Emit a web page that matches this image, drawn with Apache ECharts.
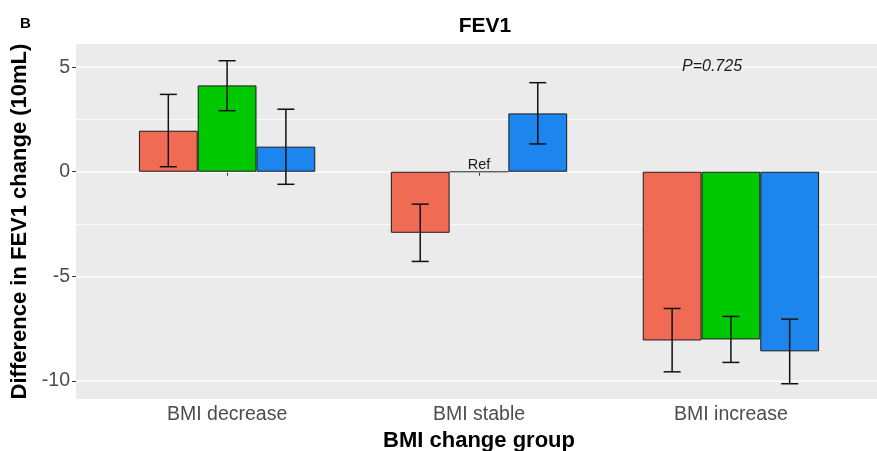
<!DOCTYPE html>
<html>
<head>
<meta charset="utf-8">
<script src="https://cdn.jsdelivr.net/npm/echarts@6/dist/echarts.min.js"></script>
<style>html,body{margin:0;padding:0;background:#fff}#c{width:877px;height:451px}</style>
</head>
<body>
<div id="c"></div>
<script>
// ---- data ----
const categories = ['BMI decrease', 'BMI stable', 'BMI increase'];
const seriesNames = ['Group 1', 'Group 2', 'Group 3'];
const values1 = [1.96, -2.92, -8.07];
const values2 = [4.13, 0, -8.02];
const values3 = [1.20, 2.79, -8.59];
const lower1 = [0.24, -4.29, -9.57];
const upper1 = [3.70, -1.55, -6.54];
const lower2 = [2.92, null, -9.12];
const upper2 = [5.31, null, -6.92];
const lower3 = [-0.60, 1.33, -10.14];
const upper3 = [2.99, 4.26, -7.05];
const yTicks = [-10, -5, 0, 5];
const yMinorGrid = [-2.5, 2.5];
const refLabel = 'Ref';
const pText = 'P=0.725';

const colors = ['#F06B53', '#00C800', '#1C86EE'];
const values = [values1, values2, values3];
const lowers = [lower1, lower2, lower3];
const uppers = [upper1, upper2, upper3];
const FONT = "'Liberation Sans', Arial, sans-serif";
const yMin = -10.87, yMax = 6.11;

const chart = echarts.init(document.getElementById('c'), null, {renderer: 'canvas'});

const barSeries = values.map((vals, k) => ({
  type: 'bar',
  name: seriesNames[k],
  xAxisIndex: 1, yAxisIndex: 1,
  barGap: '0%',
  barCategoryGap: '30%',
  z: 2,
  itemStyle: {color: colors[k], borderColor: '#1a1a1a', borderWidth: 1},
  data: vals.map((v, i) => {
    if (k === 1 && v === 0) {
      return {value: v, itemStyle: {borderColor: '#555'},
        label: {show: true, position: 'top', formatter: refLabel, distance: -1,
          color: '#1a1a1a', fontSize: 14.5, fontFamily: FONT}};
    }
    return v;
  })
}));

const errSeries = values.map((vals, k) => ({
  type: 'custom',
  xAxisIndex: 1, yAxisIndex: 1,
  z: 3,
  silent: true,
  data: categories.map((c, i) => [i, lowers[k][i], uppers[k][i]]).filter(d => d[1] != null),
  encode: {x: 0, y: [1, 2]},
  renderItem: function (params, api) {
    const center = api.coord([api.value(0), 0])[0];
    const band = api.size([1, 0])[0];
    const barW = band * 0.7 / 3;
    const cx = center + (k - 1) * barW;
    const yl = api.coord([api.value(0), api.value(1)])[1];
    const yh = api.coord([api.value(0), api.value(2)])[1];
    const cap = barW * 0.145;
    const style = {stroke: '#111', lineWidth: 1.5};
    return {
      type: 'group',
      children: [
        {type: 'line', shape: {x1: cx, y1: yl, x2: cx, y2: yh}, style: style},
        {type: 'line', shape: {x1: cx - cap, y1: yl, x2: cx + cap, y2: yl}, style: style},
        {type: 'line', shape: {x1: cx - cap, y1: yh, x2: cx + cap, y2: yh}, style: style}
      ]
    };
  }
}));

const gridSeries = {
  type: 'line',
  xAxisIndex: 0, yAxisIndex: 0,
  data: [],
  silent: true,
  markLine: {
    silent: true,
    symbol: 'none',
    z: 1,
    animation: false,
    label: {show: false},
    emphasis: {disabled: true},
    data: yTicks.map(v => ({yAxis: v, lineStyle: {color: '#ffffff', width: 1.6, type: 'solid'}}))
      .concat(yMinorGrid.map(v => ({yAxis: v, lineStyle: {color: '#ffffff', width: 0.8, type: 'solid'}})))
  }
};

const option = {
  animation: false,
  backgroundColor: '#ffffff',
  textStyle: {fontFamily: FONT},
  title: [
    {text: 'FEV1', left: 480, top: 11, textAlign: 'center',
      textStyle: {fontSize: 21, fontWeight: 'bold', color: '#000', fontFamily: FONT}},
    {text: 'B', left: 15, top: 11,
      textStyle: {fontSize: 15, fontWeight: 'bold', color: '#000', fontFamily: FONT}},
    {text: pText, left: 707, top: 54, textAlign: 'center',
      textStyle: {fontSize: 16, fontStyle: 'italic', fontWeight: 'normal', color: '#1a1a1a', fontFamily: FONT}}
  ],
  grid: [
    {left: 76, right: -5, top: 44, bottom: 52, show: true, backgroundColor: '#EBEBEB', borderWidth: 0,
      containLabel: false, outerBoundsMode: 'none'},
    {left: 101.15, right: 20.15, top: 44, bottom: 52, containLabel: false, outerBoundsMode: 'none'}
  ],
  xAxis: [
    {type: 'value', gridIndex: 0, min: 0, max: 1, show: false},
    {type: 'category', gridIndex: 1, data: categories,
      axisLine: {show: false},
      axisTick: {show: true, alignWithLabel: true, length: 4, lineStyle: {color: '#333', width: 1}},
      axisLabel: {color: '#4D4D4D', fontSize: 19.5, margin: 6, fontFamily: FONT},
      name: 'BMI change group', nameLocation: 'middle', nameGap: 25,
      nameTextStyle: {fontSize: 22, fontWeight: 'bold', color: '#000', fontFamily: FONT}
    }
  ],
  yAxis: [
    {type: 'value', gridIndex: 0, min: yMin, max: yMax,
      axisLine: {show: false},
      splitLine: {show: false},
      axisTick: {show: true, length: 4, customValues: yTicks, lineStyle: {color: '#333', width: 1}},
      axisLabel: {color: '#4D4D4D', fontSize: 19.5, margin: 6, customValues: yTicks, fontFamily: FONT},
      name: 'Difference in FEV1 change (10mL)', nameLocation: 'middle', nameGap: 40,
      nameTextStyle: {fontSize: 22, fontWeight: 'bold', color: '#000', fontFamily: FONT}
    },
    {type: 'value', gridIndex: 1, min: yMin, max: yMax, show: false, splitLine: {show: false}}
  ],
  series: [gridSeries].concat(barSeries).concat(errSeries)
};

chart.setOption(option);
</script>
</body>
</html>
